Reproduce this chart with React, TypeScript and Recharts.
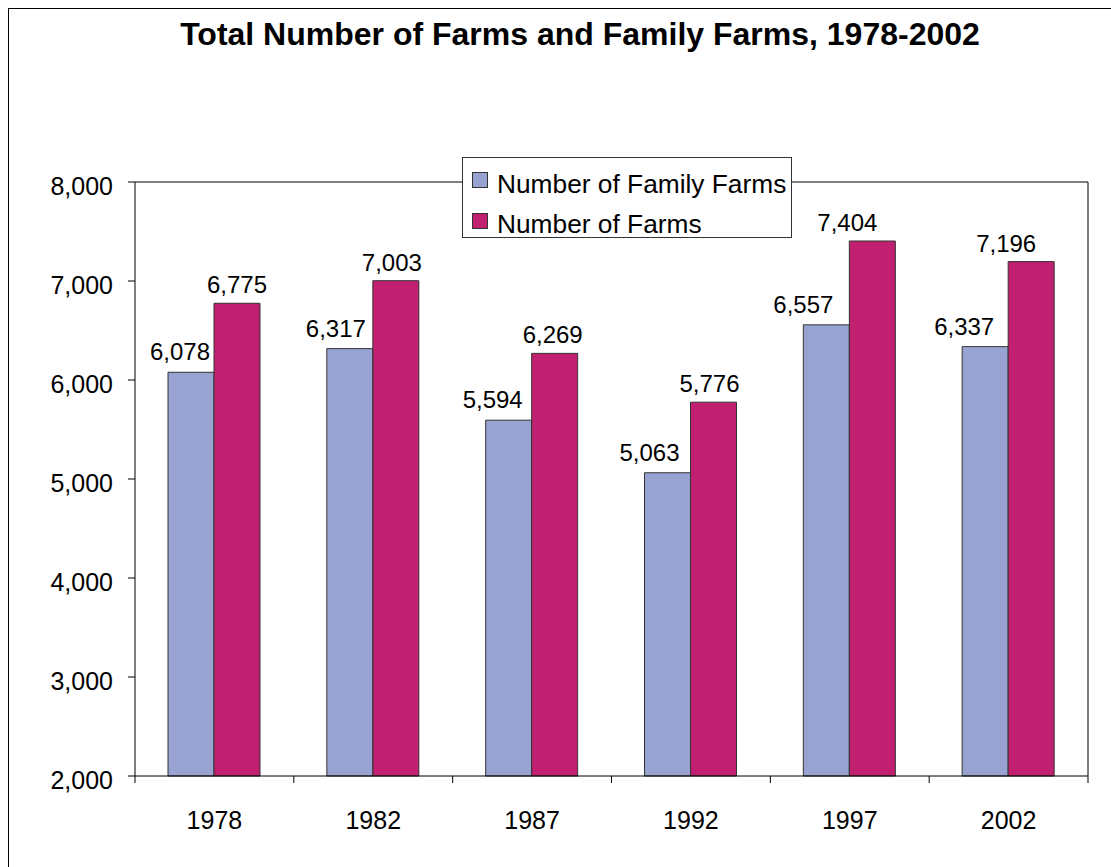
import React from "react";
import { BarChart, Bar, XAxis, YAxis, LabelList, Legend } from "recharts";

const years = ["1978", "1982", "1987", "1992", "1997", "2002"];
const familyFarms = [6078, 6317, 5594, 5063, 6557, 6337];
const allFarms = [6775, 7003, 6269, 5776, 7404, 7196];
const yTicks = [2000, 3000, 4000, 5000, 6000, 7000, 8000];

// horizontal nudges of the value labels, as placed in the original
const familyLabelShift = [-11, -14, -16, -18, -23, -21];
const farmsLabelShift = [0, -4, -2, -4, -25, -25];

const data = years.map((year, i) => ({
  year,
  family: familyFarms[i],
  farms: allFarms[i],
}));

const FONT = '"Liberation Sans", Arial, Helvetica, sans-serif';
const BLUE = "#99A3D2";
const MAGENTA = "#C0206F";

const fmt = (v: any) => Number(v).toLocaleString("en-US");

const makeLabel = (shift: number[], off: number) => (p: any) => {
  const dx = shift[Number(p.index)] ?? 0;
  const x = Number(p.x) + Number(p.width) / 2 + dx;
  const y = Number(p.y) - off;
  return (
    <text x={x} y={y} textAnchor="middle" fontSize={24} fill="#000" fontFamily={FONT}>
      {fmt(p.value)}
    </text>
  );
};

const YearTick = (p: any) => {
  const { x, y, payload, index, visibleTicksCount, width } = p;
  const half =
    payload && typeof payload.offset === "number" && payload.offset > 0
      ? payload.offset
      : width / visibleTicksCount / 2;
  const last = index === visibleTicksCount - 1;
  return (
    <g>
      <line x1={x - half} x2={x - half} y1={y} y2={y + 7} stroke="#000" />
      {last && <line x1={x + half} x2={x + half} y1={y} y2={y + 7} stroke="#000" />}
      <text x={x} y={y + 35} dy="0.71em" textAnchor="middle" fontSize={25} fill="#000" fontFamily={FONT}>
        {payload.value}
      </text>
    </g>
  );
};

const LegendBox = (props: any) => {
  const items = props.payload || [];
  return (
    <svg width={330} height={81} style={{ display: "block" }}>
      <rect x={0.5} y={0.5} width={329} height={80} fill="#fff" stroke="#333" />
      {items.map((it: any, i: number) => (
        <g key={it.value}>
          <rect x={10.5} y={15.5 + i * 41} width={15} height={15} fill={it.color} stroke="#333" />
          <text x={35} y={36 + i * 40} fontSize={26.3} fill="#000" fontFamily={FONT}>
            {it.value}
          </text>
        </g>
      ))}
    </svg>
  );
};

export default function App() {
  return (
    <div
      style={{
        position: "fixed",
        top: 8,
        left: 8,
        width: 1102,
        height: 858,
        borderLeft: "1px solid #000",
        borderTop: "1px solid #000",
        background: "#fff",
        fontFamily: FONT,
      }}
    >
      <div
        style={{
          position: "absolute",
          top: 9,
          left: 571,
          transform: "translateX(-50%)",
          whiteSpace: "nowrap",
          fontSize: 32,
          lineHeight: "32px",
          fontWeight: "bold",
          color: "#000",
        }}
      >
        Total Number of Farms and Family Farms, 1978-2002
      </div>
      <BarChart
        width={1102}
        height={858}
        data={data}
        margin={{ top: 172, right: 22, bottom: 31, left: 0 }}
        barGap={0}
        barSize={46}
      >
        <XAxis
          xAxisId="cat"
          dataKey="year"
          height={60}
          axisLine={{ stroke: "#000" }}
          tickLine={false}
          tickSize={0}
          tickMargin={0}
          tick={<YearTick />}
          interval={0}
        />
        <XAxis xAxisId="top" dataKey="year" orientation="top" height={1} tick={false} tickLine={false} axisLine={{ stroke: "#000" }} />
        <YAxis
          yAxisId="l"
          domain={[2000, 8000]}
          ticks={yTicks}
          width={126}
          tickFormatter={fmt}
          axisLine={{ stroke: "#000" }}
          tickLine={{ stroke: "#000" }}
          tickSize={7}
          tickMargin={15}
          tick={{ fontSize: 25, fill: "#000", fontFamily: FONT, dy: 4 }}
          interval={0}
        />
        <YAxis yAxisId="r" orientation="right" domain={[2000, 8000]} width={1} tick={false} tickLine={false} axisLine={{ stroke: "#000" }} />
        <Legend
          layout="horizontal"
          align="center"
          verticalAlign="middle"
          content={<LegendBox />}
          wrapperStyle={{ left: 453, top: 148, width: 330, height: 81 }}
        />
        <Bar
          xAxisId="cat"
          yAxisId="l"
          dataKey="family"
          name="Number of Family Farms"
          fill={BLUE}
          stroke="#333"
          strokeWidth={1}
          isAnimationActive={false}
        >
          <LabelList dataKey="family" content={makeLabel(familyLabelShift, 12)} />
        </Bar>
        <Bar
          xAxisId="cat"
          yAxisId="l"
          dataKey="farms"
          name="Number of Farms"
          fill={MAGENTA}
          stroke="#333"
          strokeWidth={1}
          isAnimationActive={false}
        >
          <LabelList dataKey="farms" content={makeLabel(farmsLabelShift, 10)} />
        </Bar>
      </BarChart>
    </div>
  );
}
